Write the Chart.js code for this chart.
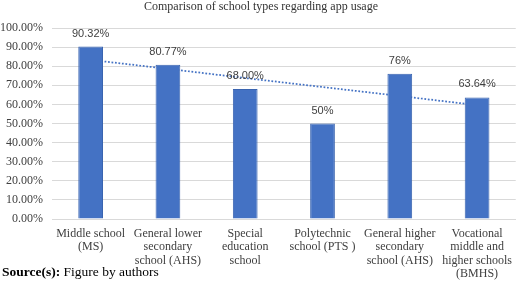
<!DOCTYPE html>
<html>
<head>
<meta charset="utf-8">
<script src="https://cdn.jsdelivr.net/npm/chart.js@4"></script>
<style>
html,body{margin:0;padding:0;background:#fff;}
#wrap{position:relative;width:520px;height:281px;}
</style>
</head>
<body>
<div id="wrap"><canvas id="c" width="520" height="281"></canvas></div>
<script>
const chartTitle = "Comparison of school types regarding app usage";
const categories = [
  ["Middle school", "(MS)"],
  ["General lower", "secondary", "school (AHS)"],
  ["Special", "education", "school"],
  ["Polytechnic", "school (PTS )"],
  ["General higher", "secondary", "school (AHS)"],
  ["Vocational", "middle and", "higher schools", "(BMHS)"]
];
const usage = [90.32, 80.77, 68.00, 50, 76, 63.64];
const valueLabels = ["90.32%", "80.77%", "68.00%", "50%", "76%", "63.64%"];
const trendline = [83.3, 78.6, 73.8, 69.1, 64.4, 59.6];
const sourceBold = "Source(s):";
const sourceText = " Figure by authors";

const extras = {
  id: 'extras',
  afterDatasetsDraw(chart) {
    const ctx = chart.ctx;
    const meta = chart.getDatasetMeta(0);
    ctx.save();
    ctx.font = '11px "Liberation Sans", Arial, sans-serif';
    ctx.fillStyle = '#404040';
    ctx.textAlign = 'center';
    ctx.textBaseline = 'middle';
    meta.data.forEach((bar, i) => {
      ctx.fillText(valueLabels[i], bar.x, bar.y - 13);
    });
    ctx.restore();
  },
  afterDraw(chart) {
    const ctx = chart.ctx;
    ctx.save();
    ctx.font = '12px "Liberation Serif", "Times New Roman", serif';
    ctx.fillStyle = '#333333';
    ctx.textAlign = 'center';
    ctx.textBaseline = 'middle';
    ctx.fillText(chartTitle, 261, 7);
    ctx.textAlign = 'left';
    ctx.textBaseline = 'alphabetic';
    ctx.fillStyle = '#000';
    ctx.font = 'bold 13.5px "Liberation Serif", "Times New Roman", serif';
    ctx.fillText(sourceBold, 2, 276);
    const w = ctx.measureText(sourceBold).width;
    ctx.font = '13.5px "Liberation Serif", "Times New Roman", serif';
    ctx.fillText(sourceText, 2 + w, 276);
    ctx.restore();
  }
};

new Chart(document.getElementById('c'), {
  type: 'bar',
  data: {
    labels: categories,
    datasets: [
      {
        type: 'bar',
        data: usage,
        backgroundColor: '#4472C4',
        borderColor: '#3a64b0',
        borderWidth: 1,
        barPercentage: 0.4,
        categoryPercentage: 0.8,
        order: 1
      },
      {
        type: 'line',
        data: trendline,
        borderColor: '#4472C4',
        borderWidth: 1.75,
        borderDash: [1.75, 1.75],
        pointRadius: 0,
        fill: false,
        tension: 0,
        order: 2
      }
    ]
  },
  options: {
    responsive: false,
    animation: false,
    devicePixelRatio: 1,
    layout: { padding: { top: 28, right: 1, left: 0, bottom: 0 } },
    plugins: { legend: { display: false }, tooltip: { enabled: false }, title: { display: false } },
    scales: {
      x: {
        grid: { display: false, drawTicks: false },
        border: { color: '#d9d9d9' },
        ticks: {
          color: '#404040',
          font: { family: '"Liberation Serif", "Times New Roman", serif', size: 12, lineHeight: '13.5px' },
          maxRotation: 0,
          autoSkip: false,
          padding: 8
        },
        afterFit(s) { s.height = 62; }
      },
      y: {
        min: 0,
        max: 100,
        ticks: {
          stepSize: 10,
          color: '#404040',
          font: { family: '"Liberation Serif", "Times New Roman", serif', size: 12 },
          callback: v => v.toFixed(2) + '%',
          padding: 9
        },
        grid: { color: '#d9d9d9', drawTicks: false },
        border: { display: false },
        afterFit(s) { s.width = 52; }
      }
    }
  },
  plugins: [extras]
});
</script>
</body>
</html>
